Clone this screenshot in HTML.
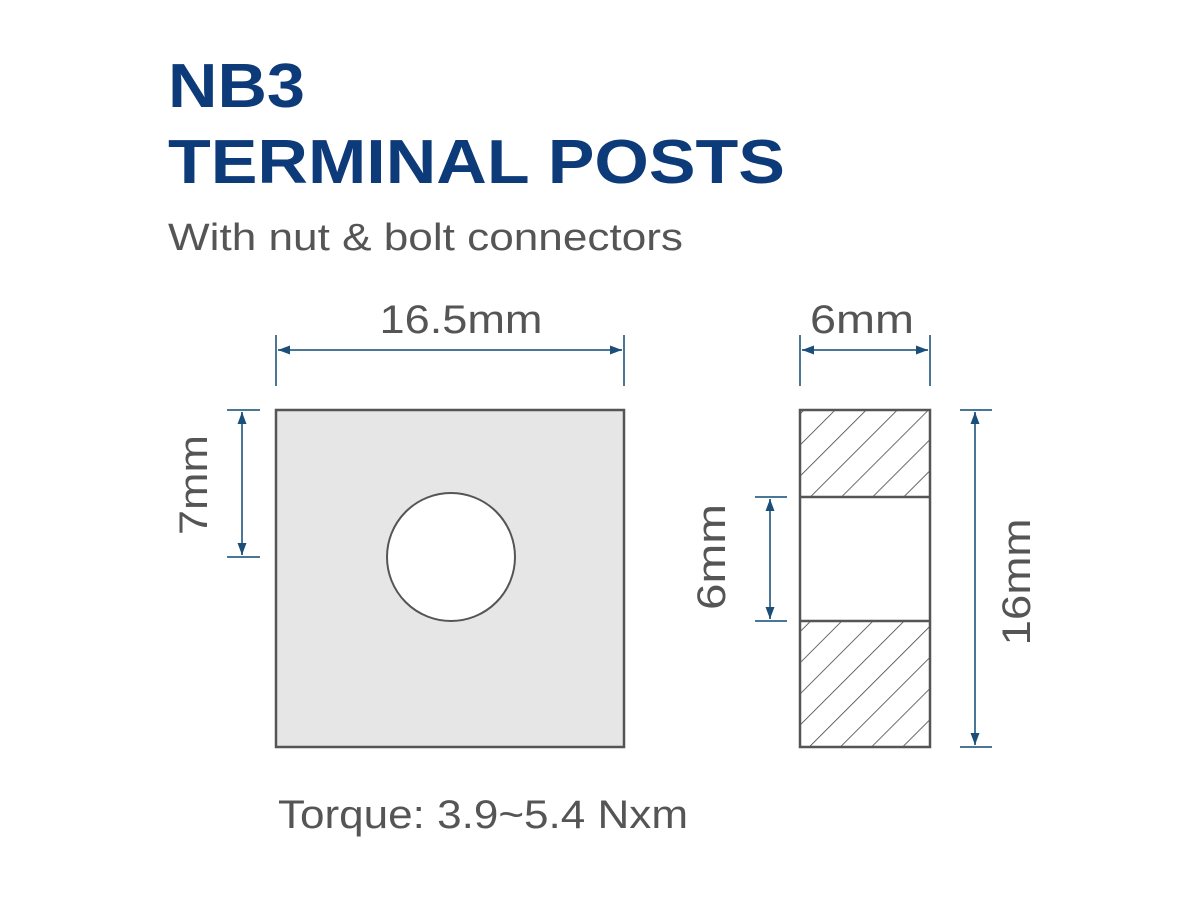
<!DOCTYPE html>
<html><head><style>body{margin:0;background:#fff}svg{display:block}</style></head><body>
<svg width="1200" height="900" viewBox="0 0 1200 900" xmlns="http://www.w3.org/2000/svg" font-family="Liberation Sans, sans-serif">
<defs>
<pattern id="h" patternUnits="userSpaceOnUse" width="22" height="22" patternTransform="rotate(45)">
<line x1="0" y1="0" x2="0" y2="22" stroke="#444" stroke-width="1.6"/>
</pattern>
<marker id="a" markerWidth="12" markerHeight="9" refX="12" refY="4.5" orient="auto-start-reverse" markerUnits="userSpaceOnUse">
<path d="M0,0 L12,4.5 L0,9 Z" fill="#1b4f7a"/></marker>
</defs>
<text x="168" y="107" font-size="62" font-weight="bold" fill="#0d3a78" textLength="137" lengthAdjust="spacingAndGlyphs">NB3</text>
<text x="168" y="183" font-size="62" font-weight="bold" fill="#0d3a78" textLength="617" lengthAdjust="spacingAndGlyphs">TERMINAL POSTS</text>
<text x="168" y="250" font-size="38" fill="#555" textLength="515" lengthAdjust="spacingAndGlyphs">With nut &amp; bolt connectors</text>

<g stroke="#4a7796" stroke-width="2" fill="none">
<line x1="276" y1="335" x2="276" y2="386"/><line x1="624" y1="335" x2="624" y2="386"/>
<line x1="278" y1="350" x2="622" y2="350" marker-start="url(#a)" marker-end="url(#a)"/>
<line x1="227" y1="410" x2="260" y2="410"/><line x1="227" y1="557" x2="260" y2="557"/>
<line x1="242" y1="412" x2="242" y2="555" marker-start="url(#a)" marker-end="url(#a)"/>
<line x1="800" y1="335" x2="800" y2="386"/><line x1="930" y1="335" x2="930" y2="386"/>
<line x1="802" y1="350" x2="928" y2="350" marker-start="url(#a)" marker-end="url(#a)"/>
<line x1="755" y1="497" x2="787" y2="497"/><line x1="755" y1="621" x2="787" y2="621"/>
<line x1="770" y1="499" x2="770" y2="619" marker-start="url(#a)" marker-end="url(#a)"/>
<line x1="960" y1="410" x2="992" y2="410"/><line x1="960" y1="747" x2="992" y2="747"/>
<line x1="975" y1="412" x2="975" y2="745" marker-start="url(#a)" marker-end="url(#a)"/>
</g>

<rect x="276" y="410" width="348" height="337" fill="#e6e6e6" stroke="#555" stroke-width="2.5"/>
<circle cx="451" cy="557" r="64" fill="#fff" stroke="#555" stroke-width="2"/>

<rect x="800" y="410" width="130" height="87" fill="url(#h)"/>
<rect x="800" y="621" width="130" height="126" fill="url(#h)"/>
<rect x="800" y="410" width="130" height="337" fill="none" stroke="#555" stroke-width="2.5"/>
<line x1="800" y1="497" x2="930" y2="497" stroke="#555" stroke-width="2.5"/>
<line x1="800" y1="621" x2="930" y2="621" stroke="#555" stroke-width="2.5"/>

<g font-size="40" fill="#555" text-anchor="middle">
<text x="461" y="333" textLength="163" lengthAdjust="spacingAndGlyphs">16.5mm</text>
<text x="862" y="333" textLength="104" lengthAdjust="spacingAndGlyphs">6mm</text>
<text transform="translate(207,485) rotate(-90)" textLength="100" lengthAdjust="spacingAndGlyphs">7mm</text>
<text transform="translate(725,557) rotate(-90)" textLength="106" lengthAdjust="spacingAndGlyphs">6mm</text>
<text transform="translate(1030,582) rotate(-90)" textLength="127" lengthAdjust="spacingAndGlyphs">16mm</text>
</g>
<text x="278" y="828" font-size="40" fill="#555" textLength="410" lengthAdjust="spacingAndGlyphs">Torque: 3.9~5.4 Nxm</text>
</svg>
</body></html>
